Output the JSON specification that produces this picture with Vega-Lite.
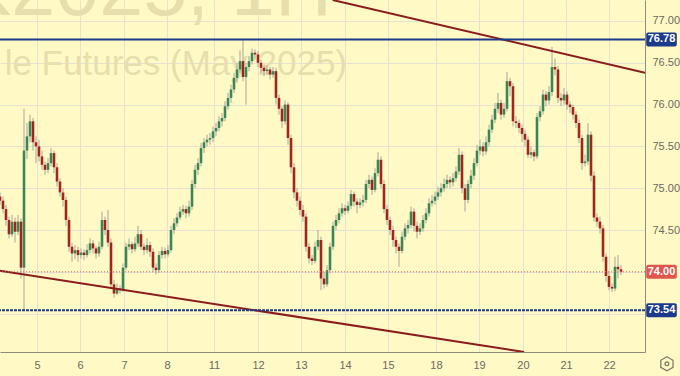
{
"$schema":"https://vega.github.io/schema/vega-lite/v6.json",
"width":645,"height":352,"autosize":{"type":"none"},"padding":{"left":0,"top":0,"right":35,"bottom":24},
"background":"#fff9c6",
"config":{"view":{"stroke":null},"scale":{"continuousPadding":0},"axis":{"labelFont":"Liberation Sans","labelFontSize":11,"labelColor":"#6b6b63","gridColor":"#e6e2d3","gridWidth":1,"domainColor":"#8f8c7c","ticks":false,"title":null}},
"datasets":{
"bars":[
{"t":0,"o":74.90,"h":74.95,"l":74.80,"c":74.85},
{"t":1,"o":74.85,"h":74.90,"l":74.70,"c":74.75},
{"t":2,"o":74.75,"h":74.80,"l":74.55,"c":74.62},
{"t":3,"o":74.62,"h":74.66,"l":74.40,"c":74.45},
{"t":4,"o":74.45,"h":74.68,"l":74.42,"c":74.60},
{"t":5,"o":74.60,"h":74.65,"l":74.35,"c":74.48},
{"t":6,"o":74.48,"h":74.68,"l":74.44,"c":74.60},
{"t":7,"o":74.60,"h":74.64,"l":73.92,"c":74.05},
{"t":8,"o":74.05,"h":75.95,"l":73.54,"c":75.45},
{"t":9,"o":75.45,"h":75.78,"l":75.35,"c":75.62},
{"t":10,"o":75.62,"h":75.88,"l":75.55,"c":75.80},
{"t":11,"o":75.80,"h":75.84,"l":75.45,"c":75.55},
{"t":12,"o":75.55,"h":75.62,"l":75.30,"c":75.50},
{"t":13,"o":75.50,"h":75.58,"l":75.32,"c":75.38},
{"t":14,"o":75.38,"h":75.45,"l":75.22,"c":75.28},
{"t":15,"o":75.28,"h":75.32,"l":75.16,"c":75.22},
{"t":16,"o":75.22,"h":75.36,"l":75.18,"c":75.30},
{"t":17,"o":75.30,"h":75.48,"l":75.26,"c":75.42},
{"t":18,"o":75.42,"h":75.45,"l":75.18,"c":75.25},
{"t":19,"o":75.25,"h":75.30,"l":75.02,"c":75.08},
{"t":20,"o":75.08,"h":75.12,"l":74.90,"c":74.95},
{"t":21,"o":74.95,"h":75.00,"l":74.78,"c":74.86},
{"t":22,"o":74.86,"h":74.90,"l":74.55,"c":74.62},
{"t":23,"o":74.62,"h":74.66,"l":74.24,"c":74.30},
{"t":24,"o":74.30,"h":74.35,"l":74.12,"c":74.22},
{"t":25,"o":74.22,"h":74.32,"l":74.15,"c":74.26},
{"t":26,"o":74.26,"h":74.30,"l":74.12,"c":74.20},
{"t":27,"o":74.20,"h":74.28,"l":74.16,"c":74.23},
{"t":28,"o":74.23,"h":74.27,"l":74.14,"c":74.20},
{"t":29,"o":74.20,"h":74.33,"l":74.17,"c":74.26},
{"t":30,"o":74.26,"h":74.40,"l":74.22,"c":74.34},
{"t":31,"o":74.34,"h":74.38,"l":74.22,"c":74.28},
{"t":32,"o":74.28,"h":74.31,"l":74.16,"c":74.22},
{"t":33,"o":74.22,"h":74.36,"l":74.18,"c":74.30},
{"t":34,"o":74.30,"h":74.72,"l":74.27,"c":74.62},
{"t":35,"o":74.62,"h":74.66,"l":74.44,"c":74.50},
{"t":36,"o":74.50,"h":74.74,"l":74.30,"c":74.35},
{"t":37,"o":74.35,"h":74.40,"l":73.80,"c":73.85},
{"t":38,"o":73.85,"h":73.90,"l":73.69,"c":73.74},
{"t":39,"o":73.74,"h":73.86,"l":73.72,"c":73.80},
{"t":40,"o":73.80,"h":73.84,"l":73.74,"c":73.78},
{"t":41,"o":73.78,"h":74.10,"l":73.76,"c":74.05},
{"t":42,"o":74.05,"h":74.35,"l":74.02,"c":74.30},
{"t":43,"o":74.30,"h":74.40,"l":74.26,"c":74.33},
{"t":44,"o":74.33,"h":74.36,"l":74.22,"c":74.27},
{"t":45,"o":74.27,"h":74.42,"l":74.24,"c":74.34},
{"t":46,"o":74.34,"h":74.55,"l":74.30,"c":74.45},
{"t":47,"o":74.45,"h":74.50,"l":74.26,"c":74.30},
{"t":48,"o":74.30,"h":74.34,"l":74.20,"c":74.26},
{"t":49,"o":74.26,"h":74.40,"l":74.22,"c":74.32},
{"t":50,"o":74.32,"h":74.36,"l":74.18,"c":74.24},
{"t":51,"o":74.24,"h":74.28,"l":74.00,"c":74.05},
{"t":52,"o":74.05,"h":74.10,"l":73.97,"c":74.02},
{"t":53,"o":74.02,"h":74.25,"l":73.99,"c":74.20},
{"t":54,"o":74.20,"h":74.30,"l":74.16,"c":74.25},
{"t":55,"o":74.25,"h":74.29,"l":74.16,"c":74.21},
{"t":56,"o":74.21,"h":74.32,"l":74.18,"c":74.26},
{"t":57,"o":74.26,"h":74.55,"l":74.23,"c":74.50},
{"t":58,"o":74.50,"h":74.64,"l":74.45,"c":74.58},
{"t":59,"o":74.58,"h":74.70,"l":74.54,"c":74.65},
{"t":60,"o":74.65,"h":74.78,"l":74.62,"c":74.72},
{"t":61,"o":74.72,"h":74.80,"l":74.68,"c":74.75},
{"t":62,"o":74.75,"h":74.79,"l":74.64,"c":74.70},
{"t":63,"o":74.70,"h":74.85,"l":74.66,"c":74.78},
{"t":64,"o":74.78,"h":75.10,"l":74.74,"c":75.05},
{"t":65,"o":75.05,"h":75.28,"l":75.00,"c":75.22},
{"t":66,"o":75.22,"h":75.36,"l":75.16,"c":75.30},
{"t":67,"o":75.30,"h":75.54,"l":75.26,"c":75.48},
{"t":68,"o":75.48,"h":75.60,"l":75.42,"c":75.55},
{"t":69,"o":75.55,"h":75.64,"l":75.50,"c":75.58},
{"t":70,"o":75.58,"h":75.66,"l":75.52,"c":75.60},
{"t":71,"o":75.60,"h":75.74,"l":75.55,"c":75.68},
{"t":72,"o":75.68,"h":75.78,"l":75.62,"c":75.72},
{"t":73,"o":75.72,"h":75.86,"l":75.68,"c":75.80},
{"t":74,"o":75.80,"h":75.90,"l":75.74,"c":75.84},
{"t":75,"o":75.84,"h":76.04,"l":75.80,"c":75.98},
{"t":76,"o":75.98,"h":76.14,"l":75.94,"c":76.08},
{"t":77,"o":76.08,"h":76.24,"l":76.02,"c":76.18},
{"t":78,"o":76.18,"h":76.38,"l":76.14,"c":76.32},
{"t":79,"o":76.32,"h":76.50,"l":76.26,"c":76.42},
{"t":80,"o":76.42,"h":76.65,"l":76.38,"c":76.52},
{"t":81,"o":76.52,"h":76.78,"l":76.28,"c":76.33},
{"t":82,"o":76.33,"h":76.50,"l":76.00,"c":76.45},
{"t":83,"o":76.45,"h":76.58,"l":76.40,"c":76.52},
{"t":84,"o":76.52,"h":76.67,"l":76.48,"c":76.62},
{"t":85,"o":76.62,"h":76.66,"l":76.54,"c":76.60},
{"t":86,"o":76.60,"h":76.64,"l":76.45,"c":76.50},
{"t":87,"o":76.50,"h":76.54,"l":76.38,"c":76.44},
{"t":88,"o":76.44,"h":76.48,"l":76.34,"c":76.40},
{"t":89,"o":76.40,"h":76.47,"l":76.36,"c":76.42},
{"t":90,"o":76.42,"h":76.45,"l":76.30,"c":76.36},
{"t":91,"o":76.36,"h":76.45,"l":76.32,"c":76.40},
{"t":92,"o":76.40,"h":76.44,"l":76.00,"c":76.08},
{"t":93,"o":76.08,"h":76.12,"l":75.88,"c":75.95},
{"t":94,"o":75.95,"h":75.98,"l":75.72,"c":75.80},
{"t":95,"o":75.80,"h":76.05,"l":75.76,"c":76.00},
{"t":96,"o":76.00,"h":76.03,"l":75.52,"c":75.60},
{"t":97,"o":75.60,"h":75.64,"l":75.18,"c":75.25},
{"t":98,"o":75.25,"h":75.30,"l":74.88,"c":74.95},
{"t":99,"o":74.95,"h":75.00,"l":74.78,"c":74.85},
{"t":100,"o":74.85,"h":74.90,"l":74.68,"c":74.74},
{"t":101,"o":74.74,"h":74.80,"l":74.60,"c":74.66},
{"t":102,"o":74.66,"h":74.70,"l":74.24,"c":74.30},
{"t":103,"o":74.30,"h":74.34,"l":74.10,"c":74.16},
{"t":104,"o":74.16,"h":74.20,"l":74.08,"c":74.13},
{"t":105,"o":74.13,"h":74.36,"l":74.10,"c":74.30},
{"t":106,"o":74.30,"h":74.50,"l":74.26,"c":74.38},
{"t":107,"o":74.38,"h":74.42,"l":73.78,"c":73.92},
{"t":108,"o":73.92,"h":74.00,"l":73.80,"c":73.85},
{"t":109,"o":73.85,"h":74.08,"l":73.82,"c":74.02},
{"t":110,"o":74.02,"h":74.35,"l":73.98,"c":74.30},
{"t":111,"o":74.30,"h":74.60,"l":74.26,"c":74.55},
{"t":112,"o":74.55,"h":74.68,"l":74.50,"c":74.62},
{"t":113,"o":74.62,"h":74.76,"l":74.58,"c":74.70},
{"t":114,"o":74.70,"h":74.82,"l":74.66,"c":74.76},
{"t":115,"o":74.76,"h":74.80,"l":74.68,"c":74.73},
{"t":116,"o":74.73,"h":74.84,"l":74.70,"c":74.79},
{"t":117,"o":74.79,"h":74.98,"l":74.75,"c":74.93},
{"t":118,"o":74.93,"h":74.96,"l":74.78,"c":74.84},
{"t":119,"o":74.84,"h":74.88,"l":74.70,"c":74.80},
{"t":120,"o":74.80,"h":74.88,"l":74.76,"c":74.83},
{"t":121,"o":74.83,"h":74.92,"l":74.78,"c":74.86},
{"t":122,"o":74.86,"h":75.10,"l":74.82,"c":75.05},
{"t":123,"o":75.05,"h":75.16,"l":75.00,"c":75.10},
{"t":124,"o":75.10,"h":75.14,"l":74.92,"c":74.98},
{"t":125,"o":74.98,"h":75.24,"l":74.95,"c":75.18},
{"t":126,"o":75.18,"h":75.43,"l":75.14,"c":75.34},
{"t":127,"o":75.34,"h":75.38,"l":75.00,"c":75.05},
{"t":128,"o":75.05,"h":75.10,"l":74.70,"c":74.75},
{"t":129,"o":74.75,"h":74.80,"l":74.56,"c":74.62},
{"t":130,"o":74.62,"h":74.66,"l":74.44,"c":74.50},
{"t":131,"o":74.50,"h":74.55,"l":74.30,"c":74.38},
{"t":132,"o":74.38,"h":74.42,"l":74.22,"c":74.30},
{"t":133,"o":74.30,"h":74.34,"l":74.06,"c":74.25},
{"t":134,"o":74.25,"h":74.48,"l":74.22,"c":74.42},
{"t":135,"o":74.42,"h":74.58,"l":74.38,"c":74.52},
{"t":136,"o":74.52,"h":74.62,"l":74.46,"c":74.56},
{"t":137,"o":74.56,"h":74.78,"l":74.52,"c":74.72},
{"t":138,"o":74.72,"h":74.76,"l":74.48,"c":74.55},
{"t":139,"o":74.55,"h":74.60,"l":74.40,"c":74.48},
{"t":140,"o":74.48,"h":74.58,"l":74.44,"c":74.52},
{"t":141,"o":74.52,"h":74.68,"l":74.48,"c":74.62},
{"t":142,"o":74.62,"h":74.76,"l":74.58,"c":74.70},
{"t":143,"o":74.70,"h":74.88,"l":74.66,"c":74.82},
{"t":144,"o":74.82,"h":74.92,"l":74.78,"c":74.85},
{"t":145,"o":74.85,"h":74.96,"l":74.80,"c":74.90},
{"t":146,"o":74.90,"h":75.02,"l":74.86,"c":74.95},
{"t":147,"o":74.95,"h":75.06,"l":74.90,"c":75.00},
{"t":148,"o":75.00,"h":75.12,"l":74.96,"c":75.05},
{"t":149,"o":75.05,"h":75.16,"l":75.00,"c":75.10},
{"t":150,"o":75.10,"h":75.14,"l":75.00,"c":75.07},
{"t":151,"o":75.07,"h":75.18,"l":75.02,"c":75.12},
{"t":152,"o":75.12,"h":75.26,"l":75.08,"c":75.20},
{"t":153,"o":75.20,"h":75.48,"l":75.16,"c":75.40},
{"t":154,"o":75.40,"h":75.44,"l":74.94,"c":75.00},
{"t":155,"o":75.00,"h":75.05,"l":74.72,"c":74.86},
{"t":156,"o":74.86,"h":75.10,"l":74.82,"c":75.05},
{"t":157,"o":75.05,"h":75.22,"l":75.00,"c":75.15},
{"t":158,"o":75.15,"h":75.36,"l":75.10,"c":75.30},
{"t":159,"o":75.30,"h":75.52,"l":75.26,"c":75.45},
{"t":160,"o":75.45,"h":75.58,"l":75.40,"c":75.50},
{"t":161,"o":75.50,"h":75.55,"l":75.38,"c":75.44},
{"t":162,"o":75.44,"h":75.62,"l":75.40,"c":75.55},
{"t":163,"o":75.55,"h":75.76,"l":75.50,"c":75.70},
{"t":164,"o":75.70,"h":75.88,"l":75.66,"c":75.82},
{"t":165,"o":75.82,"h":76.02,"l":75.78,"c":75.95},
{"t":166,"o":75.95,"h":76.14,"l":75.90,"c":76.02},
{"t":167,"o":76.02,"h":76.06,"l":75.82,"c":75.88},
{"t":168,"o":75.88,"h":76.02,"l":75.84,"c":75.95},
{"t":169,"o":75.95,"h":76.39,"l":75.92,"c":76.28},
{"t":170,"o":76.28,"h":76.32,"l":76.10,"c":76.22},
{"t":171,"o":76.22,"h":76.26,"l":75.74,"c":75.80},
{"t":172,"o":75.80,"h":75.86,"l":75.72,"c":75.78},
{"t":173,"o":75.78,"h":75.82,"l":75.66,"c":75.72},
{"t":174,"o":75.72,"h":75.76,"l":75.55,"c":75.65},
{"t":175,"o":75.65,"h":75.70,"l":75.50,"c":75.58},
{"t":176,"o":75.58,"h":75.62,"l":75.36,"c":75.40},
{"t":177,"o":75.40,"h":75.50,"l":75.36,"c":75.43},
{"t":178,"o":75.43,"h":75.46,"l":75.32,"c":75.38},
{"t":179,"o":75.38,"h":75.90,"l":75.35,"c":75.85},
{"t":180,"o":75.85,"h":75.98,"l":75.80,"c":75.92},
{"t":181,"o":75.92,"h":76.18,"l":75.88,"c":76.12},
{"t":182,"o":76.12,"h":76.16,"l":75.98,"c":76.05},
{"t":183,"o":76.05,"h":76.22,"l":76.00,"c":76.15},
{"t":184,"o":76.15,"h":76.69,"l":76.10,"c":76.45},
{"t":185,"o":76.45,"h":76.55,"l":76.35,"c":76.42},
{"t":186,"o":76.42,"h":76.46,"l":76.02,"c":76.08},
{"t":187,"o":76.08,"h":76.14,"l":75.98,"c":76.05},
{"t":188,"o":76.05,"h":76.20,"l":76.00,"c":76.12},
{"t":189,"o":76.12,"h":76.16,"l":75.94,"c":76.00},
{"t":190,"o":76.00,"h":76.04,"l":75.90,"c":75.97},
{"t":191,"o":75.97,"h":76.00,"l":75.82,"c":75.88},
{"t":192,"o":75.88,"h":75.92,"l":75.72,"c":75.78},
{"t":193,"o":75.78,"h":75.82,"l":75.54,"c":75.60},
{"t":194,"o":75.60,"h":75.64,"l":75.22,"c":75.30},
{"t":195,"o":75.30,"h":75.40,"l":75.26,"c":75.32},
{"t":196,"o":75.32,"h":75.78,"l":75.28,"c":75.64},
{"t":197,"o":75.64,"h":75.68,"l":75.08,"c":75.15},
{"t":198,"o":75.15,"h":75.20,"l":74.60,"c":74.65},
{"t":199,"o":74.65,"h":74.70,"l":74.54,"c":74.60},
{"t":200,"o":74.60,"h":74.66,"l":74.46,"c":74.52},
{"t":201,"o":74.52,"h":74.56,"l":74.12,"c":74.18},
{"t":202,"o":74.18,"h":74.22,"l":73.88,"c":73.95},
{"t":203,"o":73.95,"h":74.00,"l":73.78,"c":73.82},
{"t":204,"o":73.82,"h":73.86,"l":73.76,"c":73.80},
{"t":205,"o":73.80,"h":74.18,"l":73.77,"c":74.06},
{"t":206,"o":74.06,"h":74.20,"l":73.92,"c":74.03},
{"t":207,"o":74.03,"h":74.08,"l":73.96,"c":74.00}
],
"tags":[{"p":76.78,"lab":"76.78","kind":"level"},{"p":73.54,"lab":"73.54","kind":"level"},{"p":74.00,"lab":"74.00","kind":"last"}],
"trend":[{"line":"upper","t":110.9,"p":77.251},{"line":"upper","t":215,"p":76.382},{"line":"lower","t":0,"p":74.013},{"line":"lower","t":174.7,"p":73.041}]
},
"layer":[
{"data":{"values":[{"label":"K2025, 1H"}]},
 "mark":{"type":"text","align":"right","baseline":"alphabetic","font":"Liberation Sans","fontSize":79,"color":"#e6dfad"},
 "encoding":{
  "x":{"datum":110.67,"type":"quantitative","scale":{"domain":[0,215],"nice":false,"zero":false,"padding":0},
   "axis":{"orient":"bottom","values":[12.33,26.67,41.33,55.67,71.33,86,100.33,115,129.33,145.33,159.67,174.33,188.67,203],
   "labelExpr":"['5','6','7','8','11','12','13','14','15','18','19','20','21','22'][indexof([12.33,26.67,41.33,55.67,71.33,86,100.33,115,129.33,145.33,159.67,174.33,188.67,203], datum.value)]",
   "labelPadding":7,"grid":true,"labelOverlap":false,"labelFlush":false}},
  "y":{"datum":77.072,"type":"quantitative","scale":{"domain":[73.041,77.251],"nice":false,"zero":false,"padding":0},
   "axis":{"orient":"right","values":[73.5,74,74.5,75,75.5,76,76.5,77],"labelExpr":"datum.value < 74.25 ? '' : format(datum.value,'.2f')","labelPadding":7,"grid":true}},
  "text":{"field":"label"}}},
{"data":{"values":[{"label":"le Futures (May 2025)"}]},
 "mark":{"type":"text","align":"right","baseline":"alphabetic","font":"Liberation Sans","fontSize":35,"color":"#e6dfad"},
 "encoding":{"x":{"datum":115.67,"type":"quantitative"},
 "y":{"datum":76.354,"type":"quantitative"},
 "text":{"field":"label"}}},
{"data":{"name":"bars"},
 "mark":{"type":"rule","color":"#a8a59a","strokeWidth":1},
 "encoding":{
  "x":{"field":"t","type":"quantitative"},
  "y":{"field":"l","type":"quantitative"},
  "y2":{"field":"h"}}},
{"data":{"name":"bars"},
 "mark":{"type":"bar","size":2.6},
 "encoding":{
  "x":{"field":"t","type":"quantitative"},
  "y":{"field":"o","type":"quantitative"},
  "y2":{"field":"c"},
  "color":{"condition":{"test":"datum.c >= datum.o","value":"#3a8657"},"value":"#a0261d"}}},
{"data":{"name":"trend"},
 "mark":{"type":"line","clip":true,"color":"#8b1c1c","strokeWidth":2},
 "encoding":{"x":{"field":"t","type":"quantitative"},"y":{"field":"p","type":"quantitative"},"detail":{"field":"line"}}},
{"data":{"values":[{"p":76.78}]},
 "mark":{"type":"rule","color":"#1b3a8c","strokeWidth":2},
 "encoding":{"y":{"field":"p","type":"quantitative"}}},
{"data":{"values":[{"p":73.54}]},
 "mark":{"type":"rule","color":"#1b3a8c","strokeWidth":2,"strokeDash":[3,1]},
 "encoding":{"y":{"field":"p","type":"quantitative"}}},
{"data":{"values":[{"p":74.00}]},
 "mark":{"type":"rule","color":"#e06060","strokeWidth":1,"strokeDash":[1,2]},
 "encoding":{"y":{"field":"p","type":"quantitative"}}},
{"data":{"name":"tags"},
 "mark":{"type":"bar","orient":"horizontal","size":14,"cornerRadius":2},
 "encoding":{"x":{"datum":215.4,"type":"quantitative"},"x2":{"datum":225.6},
  "y":{"field":"p","type":"quantitative"},
  "color":{"field":"kind","type":"nominal","scale":{"domain":["level","last"],"range":["#1b3a8c","#e0564d"]},"legend":null}}},
{"data":{"name":"tags"},
 "mark":{"type":"text","align":"center","baseline":"middle","font":"Liberation Sans","fontSize":11,"fontWeight":"bold","color":"#ffffff"},
 "encoding":{"x":{"datum":220.5,"type":"quantitative"},"y":{"field":"p","type":"quantitative"},"text":{"field":"lab"}}},
{"data":{"values":[{"icon":"settings"}]},
 "mark":{"type":"point","shape":"M0,-1L0.866,-0.5L0.866,0.5L0,1L-0.866,0.5L-0.866,-0.5Z","size":200,"filled":false,"stroke":"#4a4a44","strokeWidth":1.3,"clip":false},
 "encoding":{"x":{"datum":222.3,"type":"quantitative"},"y":{"datum":72.9,"type":"quantitative"}}},
{"data":{"values":[{"icon":"settings"}]},
 "mark":{"type":"point","shape":"circle","size":14,"filled":false,"stroke":"#4a4a44","strokeWidth":1.3,"clip":false},
 "encoding":{"x":{"datum":222.3,"type":"quantitative"},"y":{"datum":72.9,"type":"quantitative"}}}
]
}
